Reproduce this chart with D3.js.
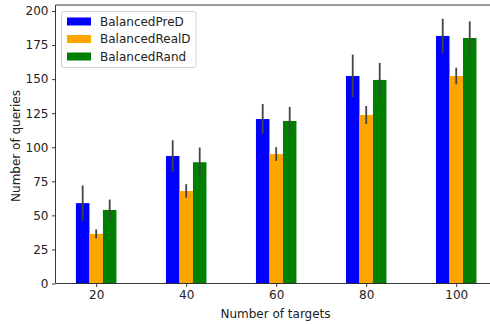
<!DOCTYPE html>
<html><head><meta charset="utf-8">
<script src="https://cdn.jsdelivr.net/npm/d3@7"></script>
<style>body{margin:0;background:#fff}svg{display:block}text{font-family:"DejaVu Sans",sans-serif;fill:#222}</style>
</head><body><svg id="c" width="490" height="324"></svg>
<script>
const targets = [20, 40, 60, 80, 100];
const seriesNames = ["BalancedPreD", "BalancedRealD", "BalancedRand"];
const seriesColors = ["#0000ff", "#ffa500", "#008000"];
const preD = [59, 93.6, 120.7, 152.3, 181.7];
const preDErr = [13, 11.6, 11, 15.7, 12.6];
const realD = [36.4, 67.9, 95, 123.7, 152.3];
const realDErr = [3.3, 5, 5, 6.6, 6.1];
const rand = [54, 89, 119.3, 149.4, 180.2];
const randErr = [7.6, 10.8, 10.3, 12.5, 12.2];
const yTicks = [0, 25, 50, 75, 100, 125, 150, 175, 200];

const values = [preD, realD, rand];
const errs = [preDErr, realDErr, randErr];
const barW = 3, offsets = [-3, 0, 3];

const svg = d3.select("#c");
const x = d3.scaleLinear().domain([10.96, 108.95]).range([55.5, 496.5]);
const y = d3.scaleLinear().domain([0, 200]).range([283.5, 11]);

const g = svg.append("g");
values.forEach((vals, si) => {
  g.selectAll(null).data(targets).enter().append("rect")
    .attr("x", (d) => x(d + offsets[si] - barW / 2))
    .attr("width", x(barW) - x(0))
    .attr("y", (d, i) => y(vals[i]))
    .attr("height", (d, i) => y(0) - y(vals[i]))
    .attr("fill", seriesColors[si]);
});
values.forEach((vals, si) => {
  g.selectAll(null).data(targets).enter().append("line")
    .attr("x1", (d) => x(d + offsets[si])).attr("x2", (d) => x(d + offsets[si]))
    .attr("y1", (d, i) => y(vals[i] - errs[si][i]))
    .attr("y2", (d, i) => y(vals[i] + errs[si][i]))
    .attr("stroke", "#444").attr("stroke-width", 1.8);
});

// axes
const xAxis = d3.axisBottom(x).tickValues(targets).tickSize(3.5).tickPadding(3.5);
const gx = svg.append("g").attr("transform", "translate(0,283.5)").call(xAxis);
const yAxis = d3.axisLeft(y).tickValues(yTicks).tickSize(3.5).tickPadding(3.5);
const gy = svg.append("g").attr("transform", "translate(55.5,0)").call(yAxis);
[gx, gy].forEach(a => {
  a.selectAll("text").attr("font-size", 12).style("font-family", '"DejaVu Sans",sans-serif').attr("fill", "#222");
  a.selectAll("line").attr("stroke", "#222").attr("stroke-width", 0.9);
  a.select(".domain").remove();
});
// spines
svg.append("line").attr("x1", 55.5).attr("x2", 55.5).attr("y1", 5).attr("y2", 283.5).attr("stroke", "#222").attr("stroke-width", 0.9);
svg.append("line").attr("x1", 55.5).attr("x2", 496).attr("y1", 283.5).attr("y2", 283.5).attr("stroke", "#222").attr("stroke-width", 0.9);
svg.append("line").attr("x1", 55.5).attr("x2", 496).attr("y1", 5).attr("y2", 5).attr("stroke", "#222").attr("stroke-width", 0.9);

svg.append("text").attr("x", 275.5).attr("y", 318).attr("text-anchor", "middle").attr("font-size", 12).text("Number of targets");
svg.append("text").attr("transform", "translate(20,146) rotate(-90)").attr("text-anchor", "middle").attr("font-size", 12).text("Number of queries");

// legend
const lg = svg.append("g");
lg.append("rect").attr("x", 61.5).attr("y", 11.5).attr("width", 134.5).attr("height", 56).attr("rx", 2.5)
  .attr("fill", "#fff").attr("fill-opacity", 0.8).attr("stroke", "#ccc").attr("stroke-width", 0.9);
seriesNames.forEach((n, i) => {
  const cy = 21.5 + i * 17.5;
  lg.append("rect").attr("x", 67).attr("y", cy - 4).attr("width", 24).attr("height", 8).attr("fill", seriesColors[i]);
  lg.append("text").attr("x", 100).attr("y", cy + 4.3).attr("font-size", 12).text(n);
});
</script></body></html>
